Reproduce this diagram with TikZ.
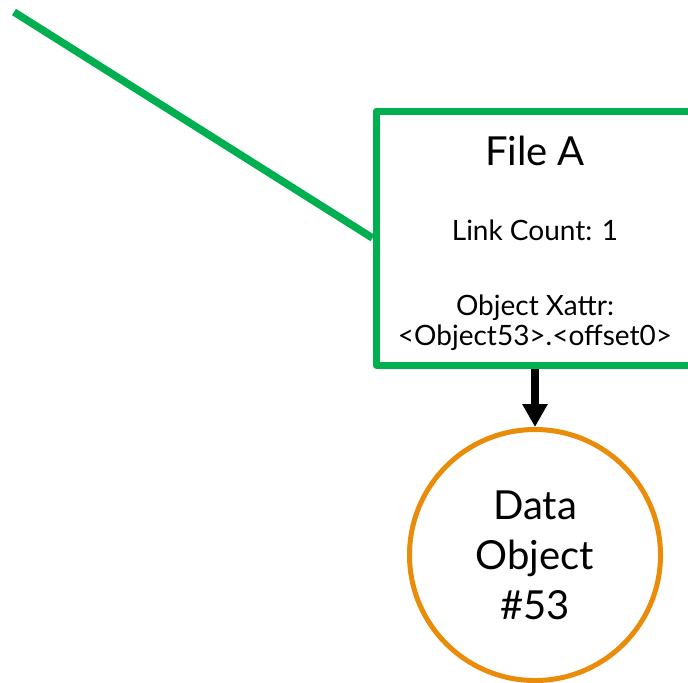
\documentclass[tikz,border=0pt]{standalone}
\usepackage{fontspec}
\setmainfont{Lato}
\usetikzlibrary{arrows.meta}
\definecolor{filegreen}{RGB}{0,176,80}
\definecolor{objorange}{RGB}{232,140,10}
\begin{document}
\begin{tikzpicture}[x=0.5pt,y=-0.5pt,
  filebox/.style={draw=filegreen,line width=3.5pt,line join=round,minimum width=159pt,minimum height=127pt,inner sep=0pt},
  objcircle/.style={circle,draw=objorange,line width=2.5pt,minimum size=125.5pt,inner sep=0pt,align=center,font=\fontsize{20}{25}\selectfont},
  boxtext/.style={anchor=base,align=center,font=\fontsize{14}{15}\selectfont}]
  \useasboundingbox (0,0) rectangle (688,682);
  % file box and its texts
  \node[filebox] (filea) at (535,238) {};
  \node[anchor=base,font=\fontsize{20}{24}\selectfont] (name) at (535,165) {File A};
  \node[boxtext] (links) at (535,240) {Link Count: 1};
  \node[boxtext] (xattr) at (535,345) {Object Xattr:\\<Object53>.<offset0>};
  % data object
  \node[objcircle] (obj) at (535,555) {Data\\Object\\\#53};
  % connectors
  \coordinate (in) at (14,12);
  \draw[filegreen,line width=3.75pt] (in) -- (filea.west);
  \draw[line width=4pt,-{Triangle[width=12pt,length=11.5pt]}] (filea.south) -- (obj.north);
\end{tikzpicture}
\end{document}
